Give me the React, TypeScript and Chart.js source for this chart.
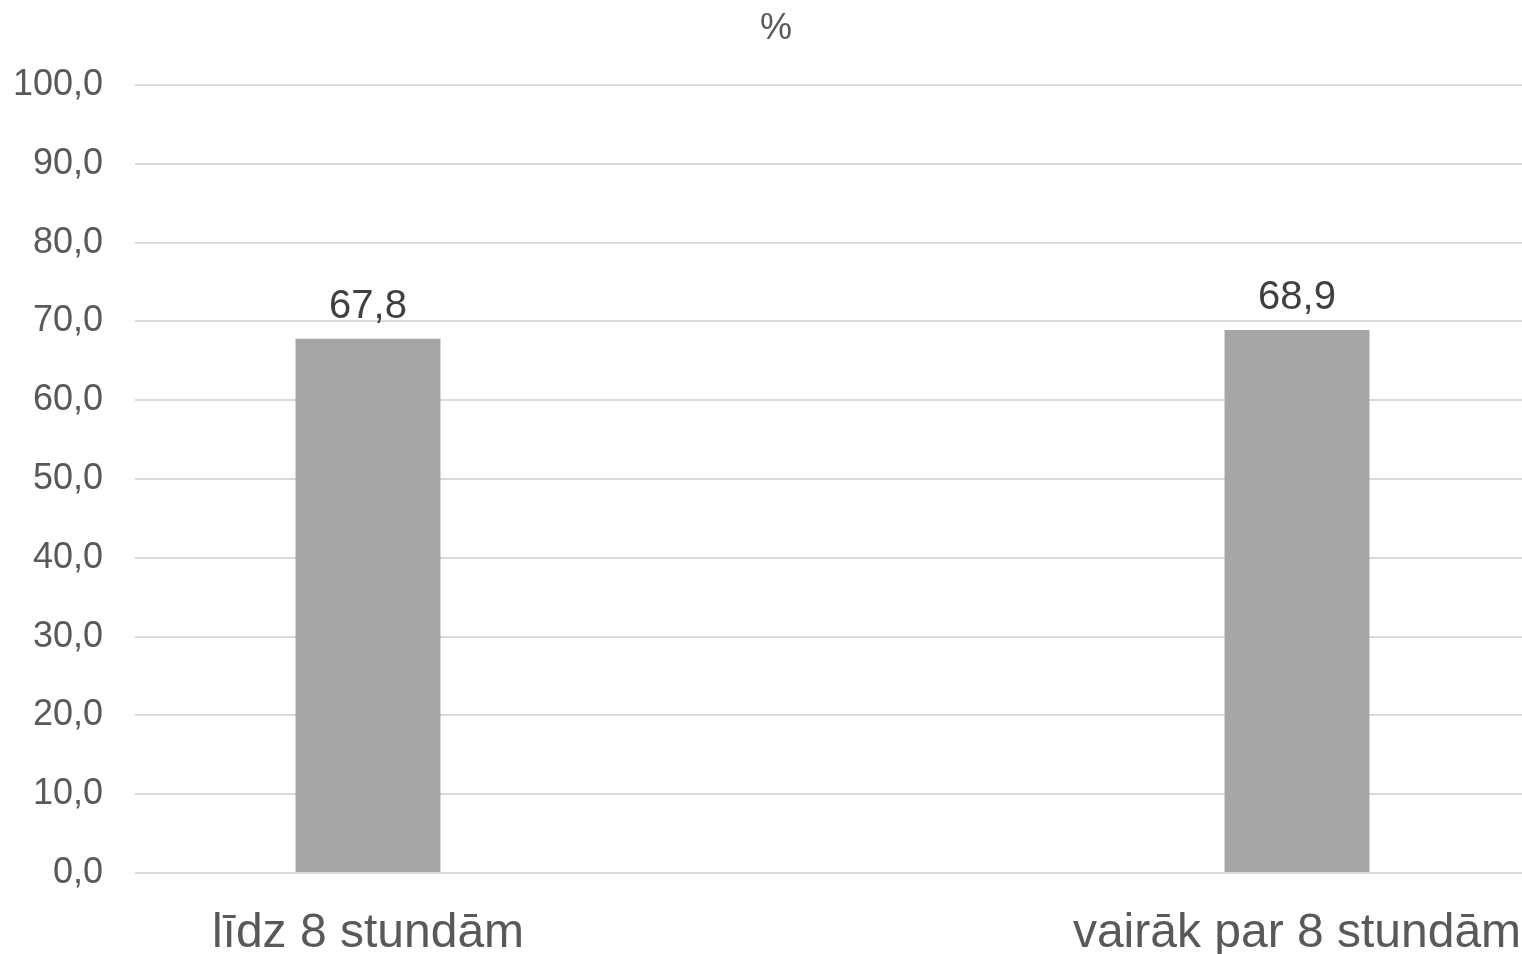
import React, { useEffect, useRef } from "react";
import { Chart, registerables } from "chart.js";

Chart.register(...registerables);

const categories: string[] = ["līdz 8 stundām", "vairāk par 8 stundām"];
const values: number[] = [67.8, 68.9];
const yTicks: number[] = [0, 10, 20, 30, 40, 50, 60, 70, 80, 90, 100];
const titleText = "%";

const FONT = "'Liberation Sans', Arial, sans-serif";
const fmt = (v: number) => v.toFixed(1).replace(".", ",");

export default function App() {
  const ref = useRef<HTMLCanvasElement | null>(null);

  useEffect(() => {
    if (!ref.current) return;
    const labelPlugin = {
      id: "valueLabels",
      afterDatasetsDraw(chart: any) {
        const ctx = chart.ctx;
        const meta = chart.getDatasetMeta(0);
        ctx.save();
        ctx.font = `40px ${FONT}`;
        ctx.fillStyle = "#404040";
        ctx.textAlign = "center";
        ctx.textBaseline = "alphabetic";
        meta.data.forEach((bar: any, i: number) => {
          ctx.fillText(fmt(values[i]), bar.x, bar.y - 21);
        });
        ctx.restore();
      },
      afterDraw(chart: any) {
        const ctx = chart.ctx;
        ctx.save();
        ctx.font = `36px ${FONT}`;
        ctx.fillStyle = "#595959";
        ctx.textAlign = "center";
        ctx.textBaseline = "alphabetic";
        ctx.fillText(titleText, 776, 39);
        ctx.restore();
      },
    };

    const chart = new Chart(ref.current, {
      type: "bar",
      data: {
        datasets: [
          {
            data: values.map((v, i) => ({ x: i, y: v })),
            backgroundColor: "#A5A5A5",
            borderWidth: 0,
            barPercentage: 1,
            categoryPercentage: 0.156,
          },
        ],
      },
      options: {
        responsive: false,
        animation: false,
        devicePixelRatio: 1,
        layout: { padding: { top: 85, right: 0, left: 0, bottom: 0 } },
        plugins: {
          legend: { display: false },
          tooltip: { enabled: false },
          title: { display: false },
        },
        scales: {
          x: {
            type: "linear",
            offset: false,
            min: -0.2508,
            max: 1.2422,
            afterBuildTicks: (scale: any) => {
              scale.ticks = categories.map((_, i) => ({ value: i }));
            },
            afterFit: (scale: any) => {
              scale.height = 81;
              scale.paddingLeft = 0;
              scale.paddingRight = 0;
            },
            grid: { display: false, offset: false },
            border: { display: false },
            ticks: {
              autoSkip: false,
              maxRotation: 0,
              padding: 24,
              color: "#595959",
              font: { family: FONT, size: 48 },
              callback: (v: any) => categories[Number(v)] ?? "",
            },
          },
          y: {
            min: 0,
            max: 100,
            afterBuildTicks: (scale: any) => {
              scale.ticks = yTicks.map((v) => ({ value: v }));
            },
            afterFit: (scale: any) => {
              scale.width = 135;
            },
            grid: { color: "#D9D9D9", lineWidth: 2, drawTicks: false },
            border: { display: false },
            ticks: {
              padding: 32,
              color: "#595959",
              font: { family: FONT, size: 36 },
              callback: (v: any) => fmt(Number(v)),
            },
          },
        },
      },
      plugins: [labelPlugin],
    } as any);
    return () => chart.destroy();
  }, []);

  return (
    <div style={{ position: "fixed", left: 0, top: 0, width: 1522, height: 954, background: "#fff" }}>
      <canvas ref={ref} width={1522} height={954} />
    </div>
  );
}
